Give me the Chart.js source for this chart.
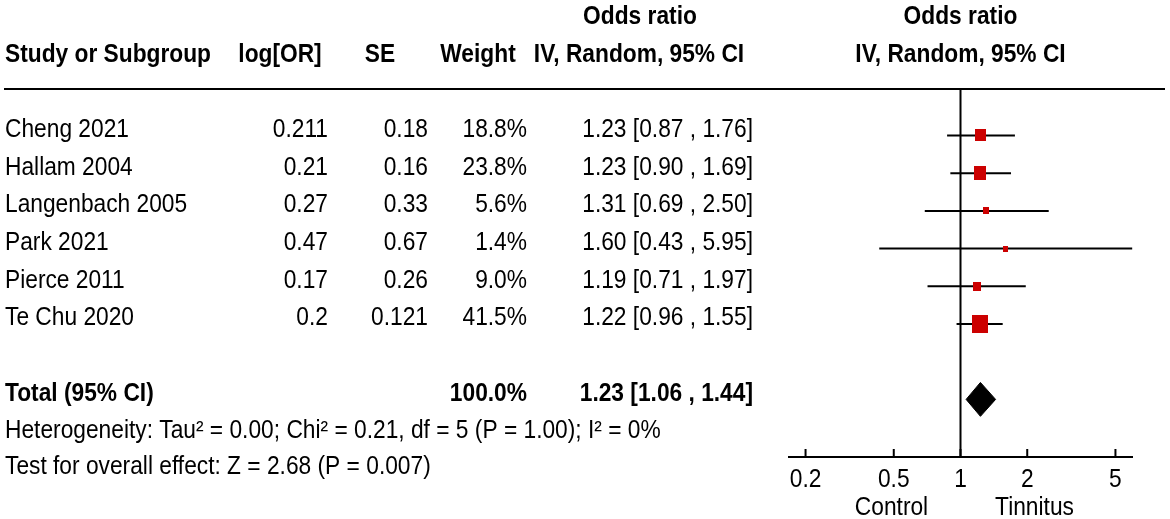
<!DOCTYPE html>
<html>
<head>
<meta charset="utf-8">
<script src="https://cdn.jsdelivr.net/npm/chart.js@4.4.1/dist/chart.umd.min.js"></script>
<style>
  html, body { margin: 0; padding: 0; background: #fff; }
</style>
</head>
<body>
<canvas id="forest" width="1170" height="519"></canvas>
<script>
// study rows
const studies = ['Cheng 2021', 'Hallam 2004', 'Langenbach 2005', 'Park 2021', 'Pierce 2011', 'Te Chu 2020'];
const logOR = ['0.211', '0.21', '0.27', '0.47', '0.17', '0.2'];
const seVals = ['0.18', '0.16', '0.33', '0.67', '0.26', '0.121'];
const weights = [18.8, 23.8, 5.6, 1.4, 9.0, 41.5];
const orEst = [1.23, 1.23, 1.31, 1.60, 1.19, 1.22];
const orLow = [0.87, 0.90, 0.69, 0.43, 0.71, 0.96];
const orHigh = [1.76, 1.69, 2.50, 5.95, 1.97, 1.55];

// pooled result
const totalWeight = 100.0;
const totalOR = [1.23, 1.06, 1.44]; // estimate, low, high

const hetText = 'Heterogeneity: Tau\u00b2 = 0.00; Chi\u00b2 = 0.21, df = 5 (P = 1.00); I\u00b2 = 0%';
const effectText = 'Test for overall effect: Z = 2.68 (P = 0.007)';

// axis
const xTicks = [0.2, 0.5, 1, 2, 5];
const xTickLabels = ['0.2', '0.5', '1', '2', '5'];
const favours = ['Control', 'Tinnitus'];

const TOTAL_ROW = 7;
const Y_MIN = -1.233, Y_MAX = 8.528;
const FONT = '"Liberation Sans", Arial, sans-serif';
const SX = 0.91;

const fmt2 = v => v.toFixed(2);
const ciText = (e, l, h) => `${fmt2(e)} [${fmt2(l)} , ${fmt2(h)}]`;

function txt(ctx, s, x, y, align, bold) {
    ctx.save();
    ctx.font = (bold ? 'bold ' : '') + '25px ' + FONT;
    ctx.fillStyle = '#000';
    ctx.textBaseline = 'alphabetic';
    ctx.textAlign = align;
    ctx.translate(x, y);
    ctx.scale(SX, 1);
    ctx.fillText(s, 0, 0);
    ctx.restore();
}

// box marker, area grows with weight (picture is a bit squeezed sideways)
function boxStyle(w) {
    const h = Math.round(Math.max(6, 2.85 * Math.sqrt(w)));
    const c = document.createElement('canvas');
    c.width = Math.round(h * 0.88);
    c.height = h;
    const g = c.getContext('2d');
    g.fillStyle = '#cc0000';
    g.fillRect(0, 0, c.width, c.height);
    return c;
}

const tablePlugin = {
    id: 'forestTable',
    afterDraw(chart) {
        const ctx = chart.ctx;
        const x = chart.scales.x;
        const y = chart.scales.y;
        const area = chart.chartArea;
        const base = r => y.getPixelForValue(r) + 1.5;
        const x1 = x.getPixelForValue(1);

        // header
        txt(ctx, 'Odds ratio', 640, base(-3), 'center', true);
        txt(ctx, 'Odds ratio', x1, base(-3), 'center', true);
        txt(ctx, 'Study or Subgroup', 5, base(-2), 'left', true);
        txt(ctx, 'log[OR]', 280, base(-2), 'center', true);
        txt(ctx, 'SE', 380, base(-2), 'center', true);
        txt(ctx, 'Weight', 478, base(-2), 'center', true);
        txt(ctx, 'IV, Random, 95% CI', 639, base(-2), 'center', true);
        txt(ctx, 'IV, Random, 95% CI', x1, base(-2), 'center', true);

        ctx.save();
        ctx.strokeStyle = '#000';
        ctx.lineWidth = 2.2;
        ctx.beginPath();
        ctx.moveTo(4, area.top);
        ctx.lineTo(1165, area.top);
        ctx.stroke();

        // axis line and ticks
        ctx.lineWidth = 2;
        ctx.beginPath();
        ctx.moveTo(area.left, area.bottom);
        ctx.lineTo(area.right, area.bottom);
        xTicks.forEach(v => {
            const px = x.getPixelForValue(v);
            ctx.moveTo(px, area.bottom - 8);
            ctx.lineTo(px, area.bottom);
        });
        ctx.stroke();
        ctx.restore();

        xTicks.forEach((v, i) => {
            txt(ctx, xTickLabels[i], x.getPixelForValue(v), area.bottom + 30, 'center', false);
        });
        txt(ctx, favours[0], x1 - 69, area.bottom + 58, 'center', false);
        txt(ctx, favours[1], x1 + 74, area.bottom + 58, 'center', false);

        // study rows
        studies.forEach((name, i) => {
            const b = base(i);
            txt(ctx, name, 5, b, 'left', false);
            txt(ctx, logOR[i], 328, b, 'right', false);
            txt(ctx, seVals[i], 428, b, 'right', false);
            txt(ctx, weights[i].toFixed(1) + '%', 527, b, 'right', false);
            txt(ctx, ciText(orEst[i], orLow[i], orHigh[i]), 753, b, 'right', false);
        });

        // total
        const bt = base(TOTAL_ROW);
        txt(ctx, 'Total (95% CI)', 5, bt, 'left', true);
        txt(ctx, totalWeight.toFixed(1) + '%', 527, bt, 'right', true);
        txt(ctx, ciText(totalOR[0], totalOR[1], totalOR[2]), 753, bt, 'right', true);
        txt(ctx, hetText, 5, base(TOTAL_ROW + 1) - 1, 'left', false);
        txt(ctx, effectText, 5, base(TOTAL_ROW + 2) - 2, 'left', false);
    }
};

const datasets = [];

// weighted squares
datasets.push({
    label: 'squares',
    data: studies.map((s, i) => ({ x: orEst[i], y: i })),
    pointStyle: weights.map(boxStyle),
    pointRadius: 8,
    showLine: false,
    order: 0
});

// pooled diamond
const dh = 0.45;
datasets.push({
    label: 'diamond',
    data: [
        { x: totalOR[1], y: TOTAL_ROW },
        { x: totalOR[0], y: TOTAL_ROW - dh },
        { x: totalOR[2], y: TOTAL_ROW },
        { x: totalOR[0], y: TOTAL_ROW + dh },
        { x: totalOR[1], y: TOTAL_ROW }
    ],
    showLine: true,
    fill: 'shape',
    backgroundColor: '#000',
    borderColor: '#000',
    borderWidth: 1,
    pointRadius: 0,
    order: 1
});

// confidence intervals
studies.forEach((s, i) => {
    datasets.push({
        label: s,
        data: [{ x: orLow[i], y: i }, { x: orHigh[i], y: i }],
        showLine: true,
        borderColor: '#000',
        borderWidth: 2,
        pointRadius: 0,
        order: 2
    });
});

// line of no effect
datasets.push({
    label: 'ref',
    data: [{ x: 1, y: Y_MIN }, { x: 1, y: Y_MAX }],
    showLine: true,
    borderColor: '#000',
    borderWidth: 2,
    pointRadius: 0,
    order: 3
});

new Chart(document.getElementById('forest'), {
    type: 'scatter',
    data: { datasets },
    options: {
        responsive: false,
        animation: false,
        events: [],
        layout: { padding: { left: 788, right: 37, top: 89, bottom: 62 } },
        plugins: {
            legend: { display: false },
            tooltip: { enabled: false }
        },
        scales: {
            x: { type: 'logarithmic', min: 1 / 6, max: 6, display: false },
            y: { type: 'linear', min: Y_MIN, max: Y_MAX, reverse: true, display: false }
        }
    },
    plugins: [tablePlugin]
});
</script>
</body>
</html>
